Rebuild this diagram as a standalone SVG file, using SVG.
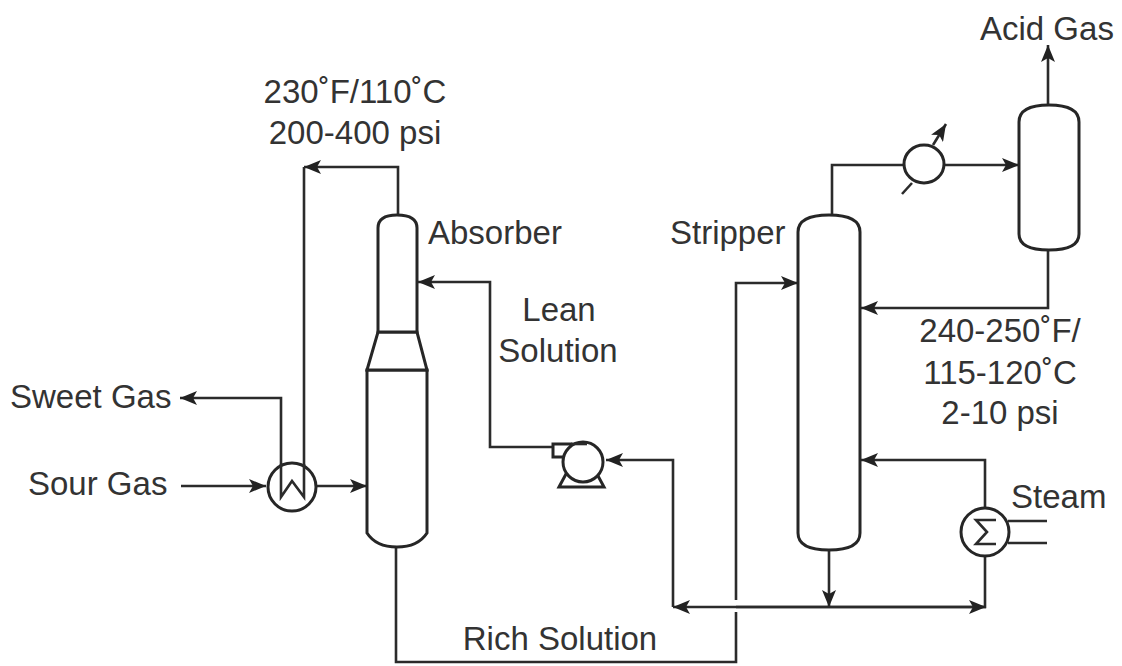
<svg xmlns="http://www.w3.org/2000/svg" width="1122" height="666" viewBox="0 0 1122 666">
<style>
.t{font-family:"Liberation Sans",Arial,sans-serif;font-size:33px;fill:#333}
.m{text-anchor:middle}
.s{fill:#fff;stroke:#262626;stroke-width:3}
.l{fill:none;stroke:#2b2b2b;stroke-width:2.6}
.a{marker-end:url(#arrow)}
</style>
<defs>
<marker id="arrow" markerUnits="userSpaceOnUse" markerWidth="18" markerHeight="14" refX="17" refY="7" orient="auto">
<path d="M0 0L17 7L0 14L4 7Z" fill="#222"/>
</marker>
</defs>
<rect width="1122" height="666" fill="#fff"/>
<g id="connectors">
<path class="l a" d="M398 216V167H304"/>
<path class="l" d="M304 167V470"/>
<path class="l a" d="M281 470V398H180"/>
<path class="l a" d="M181 486H266"/>
<path class="l a" d="M316 486H367"/>
<path class="l" d="M396 547V662H736V612"/>
<path class="l a" d="M736 600V283H798"/>
<path class="l a" d="M553 447H490V282H418"/>
<path class="l a" d="M673 607V460H606"/>
<path class="l a" d="M985 556V607H673"/>
<path class="l a" d="M736 607H986"/>
<path class="l a" d="M829 550V607"/>
<path class="l a" d="M985 508V460H861"/>
<path class="l a" d="M1048 250V308H861"/>
<path class="l" d="M832 216V165H904"/>
<path class="l a" d="M944 165H1019"/>
<path class="l a" d="M1048 105V45"/>
<path class="l" d="M1008 521H1047M1008 543H1047"/>
</g>
<g id="absorber">
<path class="s" d="M367 370H427V533Q418 547 397 547Q376 547 367 533Z"/>
<path class="s" d="M367 370L378 332H417L427 370Z"/>
<path class="s" d="M378 332V228Q378 215 397 215Q417 215 417 228V332Z"/>
</g>
<g id="stripper">
<path class="s" d="M798 232Q798 215 829 215Q860 215 860 232V533Q860 550 829 550Q798 550 798 533Z"/>
</g>
<g id="drum">
<path class="s" d="M1019 122Q1019 105 1049 105Q1079 105 1079 122V234Q1079 250 1049 250Q1019 250 1019 234Z"/>
</g>
<g id="feed-exchanger">
<circle class="s" cx="292" cy="487" r="24"/>
<path class="l" d="M281 464V497L292 481L304 497V464" stroke-width="2"/>
</g>
<g id="condenser">
<path class="l" d="M902 194L912 183"/>
<ellipse class="s" cx="924" cy="164" rx="20" ry="19"/>
<path class="l a" d="M933 145L946 124"/>
</g>
<g id="reboiler">
<circle class="s" cx="985" cy="532" r="24"/>
<path class="l" d="M996 520H976L987 532L976 544H996" stroke-width="2"/>
</g>
<g id="pump">
<path class="s" d="M559 487L566 474H597L604 487Z"/>
<rect class="s" x="553" y="444" width="18" height="13"/>
<circle class="s" cx="583" cy="462" r="20"/>
<path class="l" d="M571 444H587" stroke-width="3"/>
</g>
<g id="labels">
<text class="t m" x="355" y="103">230˚F/110˚C</text>
<text class="t m" x="355" y="144">200-400 psi</text>
<text class="t" x="428" y="244">Absorber</text>
<text class="t" x="670" y="244">Stripper</text>
<text class="t m" x="559" y="321">Lean</text>
<text class="t m" x="558" y="362">Solution</text>
<text class="t" x="10" y="408">Sweet Gas</text>
<text class="t" x="28" y="495">Sour Gas</text>
<text class="t" x="980" y="40">Acid Gas</text>
<text class="t m" x="1000" y="342">240-250˚F/</text>
<text class="t m" x="1000" y="384">115-120˚C</text>
<text class="t m" x="1000" y="424">2-10 psi</text>
<text class="t" x="1011" y="508">Steam</text>
<text class="t m" x="560" y="650">Rich Solution</text>
</g>
</svg>
